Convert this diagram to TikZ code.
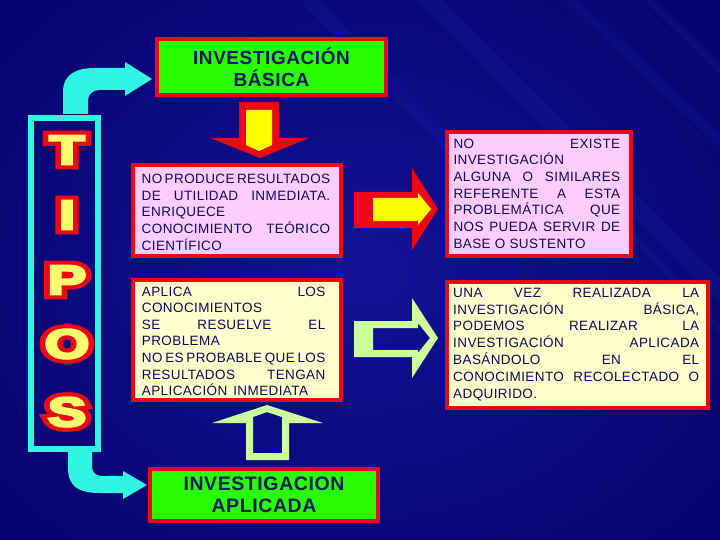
\documentclass[tikz,border=0pt]{standalone}
\usepackage{fontspec}
\setmainfont{Liberation Sans}[LetterSpace=3]
\newfontfamily\edgefont[FakeBold=26]{Liberation Sans Bold}
\newfontfamily\fillfont[FakeBold=6]{Liberation Sans Bold}
\definecolor{bgin}{RGB}{18,18,150}
\definecolor{bgout}{RGB}{4,4,112}
\definecolor{streakc}{RGB}{60,60,220}
\definecolor{boxred}{RGB}{235,10,20}
\definecolor{titlegreen}{RGB}{40,255,0}
\definecolor{titletext}{RGB}{15,25,95}
\definecolor{bodytextcol}{RGB}{10,10,90}
\definecolor{pinkfill}{RGB}{255,204,255}
\definecolor{yellowfill}{RGB}{255,255,204}
\definecolor{arrowyellow}{RGB}{255,255,0}
\definecolor{paleg}{RGB}{204,255,153}
\definecolor{turq}{RGB}{50,245,225}
\definecolor{lettery}{RGB}{255,255,110}
\newcommand\jl[1]{\hbox to\hsize{#1}}
\usetikzlibrary{calc}
\tikzset{
  redbox/.style={draw=boxred, line width=4pt, rectangle, inner sep=0pt},
  titlebox/.style={redbox, fill=titlegreen, text=titletext, align=center,
    font=\fontsize{19}{22.5}\selectfont\bfseries},
  pinkbox/.style={redbox, fill=pinkfill},
  yellowbox/.style={redbox, fill=yellowfill},
  bodytext/.style={inner sep=0pt, anchor=base west, text=bodytextcol,
    font=\fontsize{13.5}{16.7}\selectfont},
  letterfill/.style={inner sep=0pt, text=lettery, font=\fillfont\fontsize{41}{41}\selectfont},
  letteredge/.style={inner sep=0pt, text=boxred, font=\edgefont\fontsize{41}{41}\selectfont},
  streak/.style={draw=streakc, line cap=round, opacity=0.10}
}
\newcommand\tiposletter[3]{%
  \node[letteredge] (#1-edge) at (#2) {\scalebox{1.4}[1]{#3}};
  \node[letterfill] (#1) at (#2) {\scalebox{1.4}[1]{#3}};
}
\begin{document}
\begin{tikzpicture}[x=1pt,y=-1pt]
\useasboundingbox (0,0) rectangle (720,540);
\shade[inner color=bgin, outer color=bgout] (-100,-100) rectangle (820,640);
% faint diagonal streaks
\draw[streak, line width=18pt] (420,-10) -- (730,300);
\draw[streak, line width=10pt] (560,-10) -- (730,150);
\draw[streak, line width=8pt] (640,-10) -- (730,80);
\draw[streak, line width=14pt] (300,-10) -- (560,260);
\draw[streak, line width=6pt] (600,200) -- (730,340);

% TIPOS frame
\draw[turq, line width=6pt] (31,118) rectangle (98,449);
\tiposletter{lT}{67,150}{T}
\tiposletter{lI}{67,215}{I}
\tiposletter{lP}{67,280}{P}
\tiposletter{lO}{67,344}{O}
\tiposletter{lS}{67,412}{S}

% cyan curved arrows
\fill[turq] (63,114) -- (63,92) .. controls (63,75) and (75,68) .. (95,68) -- (125,68)
  -- (125,62) -- (152,79) -- (125,96) -- (125,90) -- (100,90)
  .. controls (93,90) and (88,94) .. (88,100) -- (88,114) -- cycle;
\fill[turq] (68,452) -- (68,468) .. controls (68,486) and (78,493) .. (100,493) -- (123,493)
  -- (123,499) -- (147,485) -- (123,471) -- (123,476) -- (102,476)
  .. controls (95,476) and (92,472) .. (92,466) -- (92,452) -- cycle;

% boxes
\node[titlebox, minimum width=229pt, minimum height=56pt] (basica) at (271.5,67) {INVESTIGACIÓN\\BÁSICA};
\node[titlebox, minimum width=228pt, minimum height=52pt, font=\fontsize{19.5}{22.5}\selectfont\bfseries] (aplicada) at (264,495) {INVESTIGACION\\APLICADA};
\node[pinkbox, minimum width=208pt, minimum height=91pt] (b1) at (237,210.5) {};
\node[yellowbox, minimum width=208pt, minimum height=120pt] (b2) at (237,340) {};
\node[pinkbox, minimum width=184pt, minimum height=124pt] (b3) at (539,194) {};
\node[yellowbox, minimum width=261pt, minimum height=126pt] (b4) at (577.5,345) {};

% texts
\node[bodytext] (t1) at (141.5,183.5) {\vtop{\hsize=188.5pt\baselineskip=16.7pt
  \jl{NO\hfill PRODUCE\hfill RESULTADOS}
  \jl{DE\hfill UTILIDAD\hfill INMEDIATA.}
  \jl{ENRIQUECE\hfill}
  \jl{CONOCIMIENTO\hfill TEÓRICO}
  \jl{CIENTÍFICO\hfill}}};
\node[bodytext] (t2) at (141.7,296) {\vtop{\hsize=183.5pt\baselineskip=16.65pt
  \jl{APLICA\hfill LOS}
  \jl{CONOCIMIENTOS\hfill}
  \jl{SE\hfill RESUELVE\hfill EL}
  \jl{PROBLEMA\hfill}
  \jl{NO\hfill ES\hfill PROBABLE\hfill QUE\hfill LOS}
  \jl{RESULTADOS\hfill TENGAN}
  \jl{APLICACIÓN\hspace{6pt}INMEDIATA\hfill}}};
\node[bodytext] (t3) at (453.3,148.3) {\vtop{\hsize=166.7pt\baselineskip=16.67pt
  \jl{NO\hfill EXISTE}
  \jl{INVESTIGACIÓN\hfill}
  \jl{ALGUNA\hfill O\hfill SIMILARES}
  \jl{REFERENTE\hfill A\hfill ESTA}
  \jl{PROBLEMÁTICA\hfill QUE}
  \jl{NOS\hfill PUEDA\hfill SERVIR\hfill DE}
  \jl{BASE O SUSTENTO\hfill}}};
\node[bodytext] (t4) at (453,297.3) {\vtop{\hsize=246pt\baselineskip=16.8pt
  \jl{UNA\hfill VEZ\hfill REALIZADA\hfill LA}
  \jl{INVESTIGACIÓN\hfill BÁSICA,}
  \jl{PODEMOS\hfill REALIZAR\hfill LA}
  \jl{INVESTIGACIÓN\hfill APLICADA}
  \jl{BASÁNDOLO\hfill EN\hfill EL}
  \jl{CONOCIMIENTO\hfill RECOLECTADO\hfill O}
  \jl{ADQUIRIDO.\hfill}}};

% red / yellow down arrow
\fill[boxred] (239,102) -- (279,102) -- (279,138) -- (309,138) -- (260,158) -- (210,138) -- (239,138) -- cycle;
\fill[arrowyellow] (246,110) -- (272,110) -- (272,145) -- (259,151) -- (246,145) -- cycle;
% red / yellow right arrow
\fill[boxred] (354,192) -- (412,192) -- (412,168) -- (438,209) -- (412,250) -- (412,228) -- (354,228) -- cycle;
\fill[arrowyellow] (373,198) -- (418,198) -- (418,193) -- (431,209) -- (418,225) -- (418,221) -- (373,221) -- cycle;
% hollow pale green right arrow
\fill[paleg, even odd rule] (354,321) -- (412,321) -- (412,298) -- (438,338) -- (412,378) -- (412,357) -- (354,357) -- cycle
  (373,328) -- (418,328) -- (418,323) -- (430,338) -- (418,353) -- (418,350) -- (373,350) -- cycle;
% hollow pale green up arrow
\fill[paleg, even odd rule] (246,460) -- (246,423) -- (212,423) -- (267,405) -- (323,423) -- (289,423) -- (289,460) -- cycle
  (253,453) -- (253,417) -- (267,412) -- (282,417) -- (282,453) -- cycle;
\end{tikzpicture}
\end{document}
